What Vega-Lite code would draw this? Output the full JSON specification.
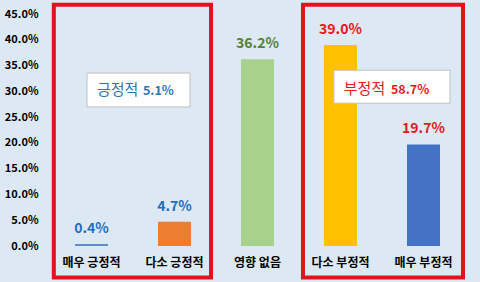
{
  "$schema": "https://vega.github.io/schema/vega-lite/v6.json",
  "width": 415,
  "height": 232,
  "autosize": "none",
  "padding": {"left": 50, "top": 14, "right": 15, "bottom": 36},
  "background": "#dde8f5",
  "config": {
    "view": {"stroke": null},
    "font": "Noto Sans CJK KR",
    "axis": {"grid": false, "domain": false, "ticks": false, "title": null, "labelColor": "#000000", "labelFont": "Noto Sans CJK KR", "labelFontWeight": "bold"}
  },
  "layer": [
    {
      "data": {"values": [
        {"category": "매우 긍정적", "value": 0.004, "group": "긍정"},
        {"category": "다소 긍정적", "value": 0.047, "group": "긍정"},
        {"category": "영향 없음", "value": 0.362, "group": "중립"},
        {"category": "다소 부정적", "value": 0.390, "group": "부정"},
        {"category": "매우 부정적", "value": 0.197, "group": "부정"}
      ]},
      "encoding": {
        "x": {"field": "category", "type": "nominal", "sort": null,
          "scale": {"paddingInner": 0.6024, "paddingOuter": 0.3012},
          "axis": {"labelAngle": 0, "labelFontSize": 12, "labelPadding": 11}},
        "y": {"field": "value", "type": "quantitative",
          "scale": {"domain": [0, 0.45], "nice": false},
          "axis": {"format": ".1%", "values": [0, 0.05, 0.1, 0.15, 0.2, 0.25, 0.3, 0.35, 0.4, 0.45], "labelFontSize": 11, "labelPadding": 12}}
      },
      "layer": [
        {
          "mark": {"type": "bar"},
          "encoding": {
            "color": {"field": "category", "type": "nominal", "sort": null, "legend": null,
              "scale": {"domain": ["매우 긍정적", "다소 긍정적", "영향 없음", "다소 부정적", "매우 부정적"],
                "range": ["#5b8fc6", "#ed7d31", "#a9d18e", "#ffc000", "#4472c4"]}}
          }
        },
        {
          "mark": {"type": "text", "dy": -15, "baseline": "middle", "fontSize": 14, "fontWeight": "bold"},
          "encoding": {
            "text": {"field": "value", "type": "quantitative", "format": ".1%"},
            "color": {"field": "group", "type": "nominal", "legend": null,
              "scale": {"domain": ["긍정", "중립", "부정"], "range": ["#1f6fbf", "#548235", "#e31a1c"]}}
          }
        }
      ],
      "resolve": {"scale": {"color": "independent"}}
    },
    {
      "data": {"values": [
        {"side": "긍정", "bx0": 0.046, "bx1": 1.94, "by0": -0.061, "by1": 0.468, "wx0": 0.446, "wx1": 1.687, "wy0": 0.2696, "wy1": 0.3355, "name": "긍정적", "pct": "5.1%", "nx": 0.566, "px": 1.12, "ty": 0.3026},
        {"side": "부정", "bx0": 3.048, "bx1": 4.976, "by0": -0.061, "by1": 0.468, "wx0": 3.42, "wx1": 4.82, "wy0": 0.277, "wy1": 0.341, "name": "부정적", "pct": "58.7%", "nx": 3.54, "px": 4.108, "ty": 0.3045}
      ]},
      "layer": [
        {
          "mark": {"type": "rect", "fill": null, "stroke": "#e0141c", "strokeWidth": 4, "clip": false},
          "encoding": {
            "x": {"field": "bx0", "type": "quantitative", "scale": {"domain": [0, 5], "nice": false, "zero": true}, "axis": null},
            "x2": {"field": "bx1"},
            "y": {"field": "by0", "type": "quantitative", "scale": {"domain": [0, 0.45], "nice": false}, "axis": null},
            "y2": {"field": "by1"}
          }
        },
        {
          "mark": {"type": "rect", "fill": "#ffffff", "stroke": "#bfbfbf", "strokeWidth": 1},
          "encoding": {
            "x": {"field": "wx0", "type": "quantitative", "scale": {"domain": [0, 5], "nice": false}, "axis": null},
            "x2": {"field": "wx1"},
            "y": {"field": "wy0", "type": "quantitative", "scale": {"domain": [0, 0.45], "nice": false}, "axis": null},
            "y2": {"field": "wy1"}
          }
        },
        {
          "mark": {"type": "text", "align": "left", "baseline": "middle", "fontSize": 15},
          "encoding": {
            "x": {"field": "nx", "type": "quantitative", "scale": {"domain": [0, 5], "nice": false}, "axis": null},
            "y": {"field": "ty", "type": "quantitative", "scale": {"domain": [0, 0.45], "nice": false}, "axis": null},
            "text": {"field": "name"},
            "color": {"field": "side", "type": "nominal", "legend": null, "scale": {"domain": ["긍정", "부정"], "range": ["#2e75b6", "#e31a1c"]}}
          }
        },
        {
          "mark": {"type": "text", "align": "left", "baseline": "middle", "fontSize": 12.5, "fontWeight": "bold", "dy": 1},
          "encoding": {
            "x": {"field": "px", "type": "quantitative", "scale": {"domain": [0, 5], "nice": false}, "axis": null},
            "y": {"field": "ty", "type": "quantitative", "scale": {"domain": [0, 0.45], "nice": false}, "axis": null},
            "text": {"field": "pct"},
            "color": {"field": "side", "type": "nominal", "legend": null, "scale": {"domain": ["긍정", "부정"], "range": ["#2e75b6", "#e31a1c"]}}
          }
        }
      ]
    }
  ],
  "resolve": {"scale": {"x": "independent", "color": "independent"}, "axis": {"y": "independent"}}
}
